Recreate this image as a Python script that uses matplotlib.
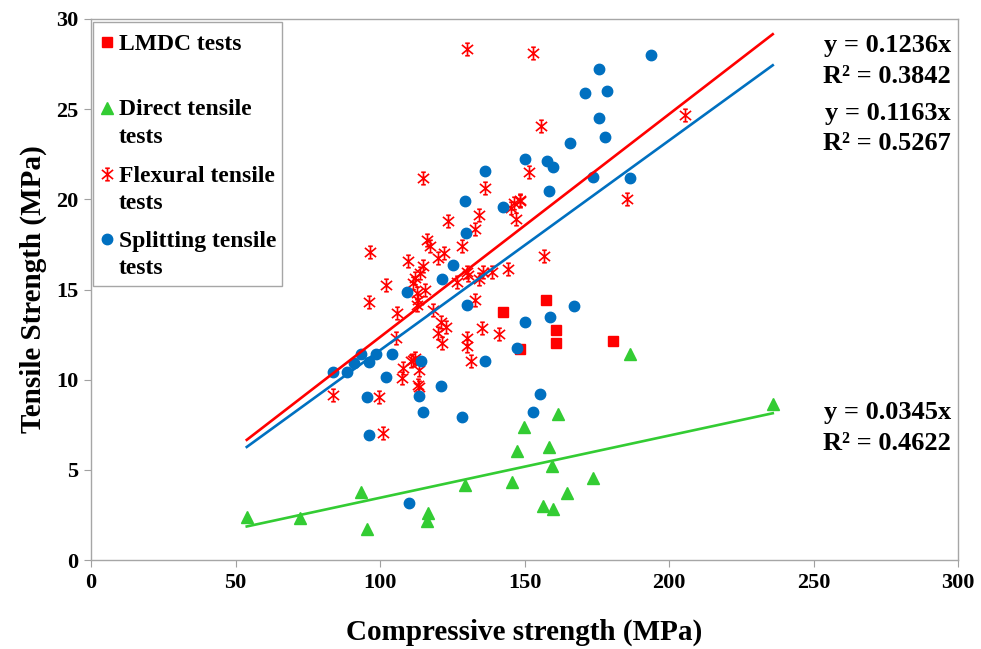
import numpy as np
import matplotlib
matplotlib.use('Agg')
import matplotlib.pyplot as plt
from matplotlib.path import Path
from matplotlib.lines import Line2D
from matplotlib.patches import Rectangle

plt.rcParams['font.family'] = 'Liberation Serif'
plt.rcParams['font.weight'] = 'bold'

# LMDC tests
lmdc_x = [142.4, 157.4, 160.9, 160.9, 180.7, 148.4]
lmdc_y = [13.74, 14.42, 12.76, 12.02, 12.16, 11.70]

# Direct tensile tests
direct_x = [53.9, 72.3, 93.4, 95.4, 116.7, 116.4, 129.4, 145.6, 147.3, 149.9,
            161.5, 158.6, 159.5, 156.3, 159.8, 164.6, 173.7, 235.9, 186.5]
direct_y = [2.38, 2.33, 3.77, 1.72, 2.59, 2.18, 4.16, 4.34, 6.05, 7.39,
            8.10, 6.28, 5.23, 2.99, 2.81, 3.70, 4.57, 8.65, 11.41]

# Flexural tensile tests
flex_x = [130.0, 153.1, 155.6, 115.0, 151.7, 136.2, 148.4, 205.5, 185.6, 156.7,
          148.4, 146.5, 145.2, 147.1, 134.4, 132.9, 123.4, 116.2, 117.3, 128.5,
          122.3, 96.5, 120.2, 109.8, 114.8, 113.8, 112.1, 111.5, 115.6, 112.7,
          113.3, 112.9, 102.0, 96.2, 105.8, 118.4, 130.0, 130.6, 126.5, 135.5,
          138.6, 144.4, 134.4, 132.9, 121.0, 122.7, 120.2, 121.4, 135.2, 141.3,
          130.2, 130.0, 131.4, 105.4, 112.1, 110.6, 108.1, 113.6, 107.5, 113.3,
          113.6, 83.8, 99.7, 101.2, 111.5]
flex_y = [28.32, 28.10, 24.07, 21.19, 21.52, 20.65, 19.97, 24.68, 20.01, 16.86,
          19.91, 19.78, 19.51, 18.89, 19.12, 18.34, 18.80, 17.75, 17.43, 17.42,
          17.01, 17.10, 16.73, 16.58, 16.31, 15.94, 15.62, 15.35, 14.98, 14.79,
          14.42, 14.14, 15.25, 14.33, 13.72, 13.87, 15.99, 15.81, 15.44, 15.99,
          15.99, 16.12, 15.57, 14.42, 13.22, 12.91, 12.57, 12.02, 12.85, 12.53,
          12.30, 11.87, 11.05, 12.33, 11.19, 11.05, 10.63, 10.54, 10.08, 9.71,
          9.58, 9.15, 9.02, 7.06, 11.09]

# Splitting tensile tests
split_x = [193.7, 175.7, 170.8, 178.7, 175.9, 177.9, 165.8, 157.9, 159.7, 173.6,
           186.5, 158.4, 150.2, 136.4, 129.3, 142.4, 129.8, 125.4, 121.5, 109.2,
           130.0, 150.1, 147.3, 136.3, 114.3, 104.0, 98.6, 93.5, 96.2, 91.1,
           88.6, 83.8, 102.0, 121.0, 95.5, 113.4, 115.0, 128.5, 96.2, 153.1,
           155.5, 110.0, 158.8, 167.1]
split_y = [28.01, 27.25, 25.88, 26.03, 24.51, 23.44, 23.13, 22.15, 21.80, 21.26,
           21.19, 20.45, 22.22, 21.59, 19.90, 19.60, 18.15, 16.38, 15.59, 14.88,
           14.16, 13.20, 11.74, 11.02, 11.02, 11.41, 11.41, 11.41, 11.00, 10.94,
           10.44, 10.44, 10.17, 9.67, 9.06, 9.10, 8.23, 7.92, 6.93, 8.23,
           9.22, 3.14, 13.46, 14.09]

# trendlines through origin: slope, R²
flex_slope, flex_r2 = 0.1236, 0.3842
split_slope, split_r2 = 0.1163, 0.5267
direct_slope, direct_r2 = 0.0345, 0.4622

legend_labels = ['LMDC tests', 'Direct tensile\ntests',
                 'Flexural tensile\ntests', 'Splitting tensile\ntests']

red = '#FF0000'
blue = '#0070C0'
green = '#33CC33'

# excel-like star marker: x + vertical bar with small caps
star = Path([(0, -0.95), (0, 0.95),
             (-0.85, -0.7), (0.85, 0.7),
             (-0.85, 0.7), (0.85, -0.7),
             (-0.35, 0.95), (0.35, 0.95),
             (-0.35, -0.95), (0.35, -0.95)],
            [Path.MOVETO, Path.LINETO] * 5)

W, H = 981, 649
fig = plt.figure(figsize=(W / 100, H / 100), dpi=100)
ax = fig.add_axes([91 / W, 1 - 560 / H, 867 / W, 541 / H])

def fx(px):
    return px / W

def fy(py):
    return 1 - py / H

styles = [dict(marker='s', ms=7, color=red),
          dict(marker='^', ms=8.5, color=green),
          dict(marker=star, ms=9, mew=1.2, color=red, mfc='none'),
          dict(marker='o', ms=7.5, color=blue)]

ax.plot(lmdc_x, lmdc_y, ls='none', **styles[0])
ax.plot(direct_x, direct_y, ls='none', **styles[1])
ax.plot(flex_x, flex_y, ls='none', **styles[2])
ax.plot(split_x, split_y, ls='none', **styles[3])

all_x = np.concatenate([lmdc_x, direct_x, flex_x, split_x])
xl = np.array([all_x.min(), all_x.max()])
ax.plot(xl, flex_slope * xl, color=red, lw=1.9)
ax.plot(xl, split_slope * xl, color=blue, lw=1.9)
ax.plot(xl, direct_slope * xl, color=green, lw=1.9)

ax.set_xlim(0, 300)
ax.set_ylim(0, 30)
ax.set_xticks(np.arange(0, 301, 50))
ax.set_yticks(np.arange(0, 31, 5))
ax.tick_params(direction='out', length=5, color='#A0A0A0', labelsize=16, pad=4)
for s in ax.spines.values():
    s.set_color('#A6A6A6')
    s.set_linewidth(1.0)

ax.set_xlabel('Compressive strength (MPa)', fontsize=21, fontweight='bold', labelpad=19)
ax.set_ylabel('Tensile Strength (MPa)', fontsize=21, fontweight='bold', labelpad=7)

# equations
eqs = [(flex_slope, flex_r2, 52, 83),
       (split_slope, split_r2, 120, 150),
       (direct_slope, direct_r2, 419, 450)]
for slope, r2, b1, b2 in eqs:
    fig.text(fx(951), fy(b1), 'y = %.4fx' % slope, fontsize=19, ha='right', va='baseline')
    fig.text(fx(951), fy(b2), 'R² = %.4f' % r2, fontsize=19, ha='right', va='baseline')

# legend drawn by hand so markers sit on the first line
fig.add_artist(Rectangle((fx(93), fy(286)), 189 / W, 264 / H, transform=fig.transFigure,
                         facecolor='white', edgecolor='#A6A6A6', lw=1.0, zorder=3))
marker_y = [42, 108, 174, 239]
text_base = [[50], [115, 143], [182, 209], [247, 274]]
for st, my, lab, bases in zip(styles, marker_y, legend_labels, text_base):
    fig.add_artist(Line2D([fx(107)], [fy(my)], transform=fig.transFigure, ls='none',
                          zorder=4, **st))
    for line, b in zip(lab.split('\n'), bases):
        fig.text(fx(119), fy(b), line, fontsize=17, ha='left', va='baseline', zorder=4)

fig.savefig('out.png', dpi=100)
